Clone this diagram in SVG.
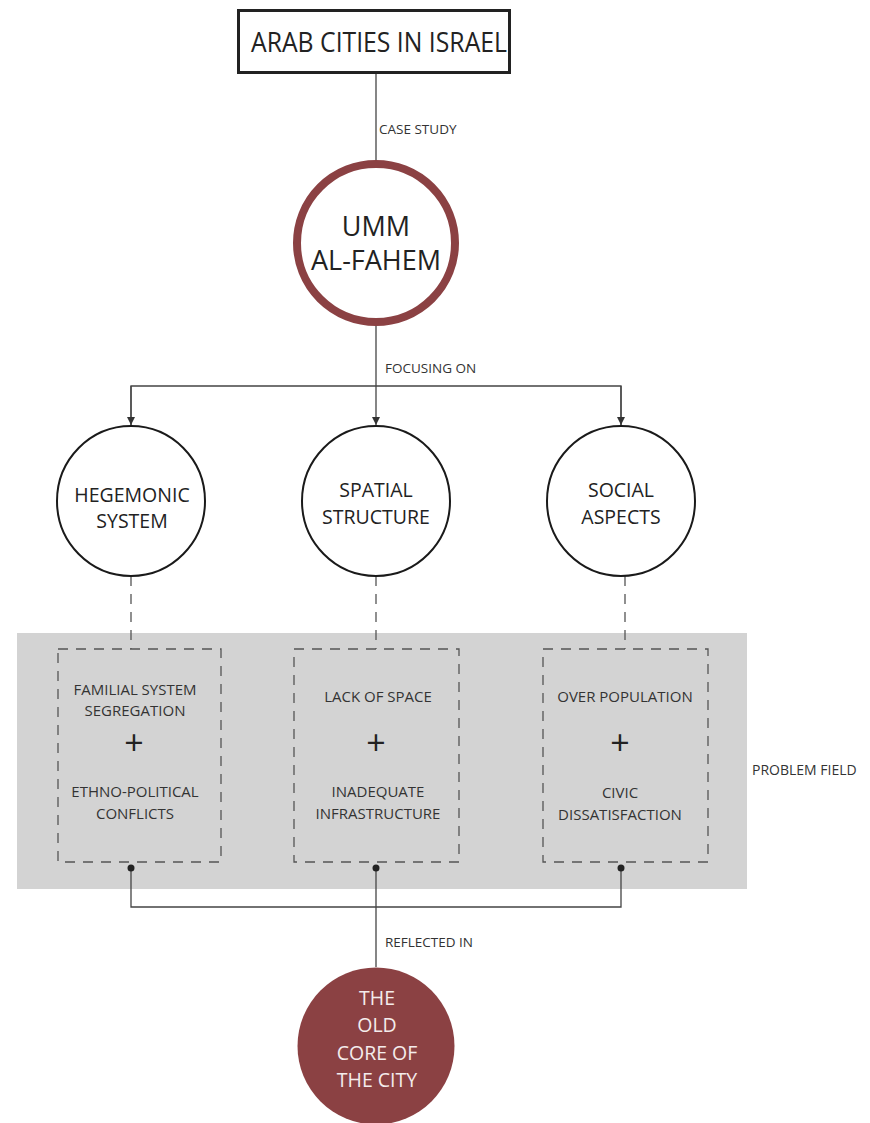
<svg xmlns="http://www.w3.org/2000/svg" width="870" height="1123" viewBox="0 0 870 1123">
<defs>
<marker id="arr" viewBox="0 0 10 10" refX="10" refY="5" markerWidth="8" markerHeight="8" markerUnits="userSpaceOnUse" orient="auto">
<path d="M0,0 L10,5 L0,10 z" fill="#333"/>
</marker>
<style>
text{font-family:"Open Sans","Liberation Sans",sans-serif;fill:#222;text-anchor:middle}
.lbl{font-size:13.5px;text-anchor:start;fill:#333}
.big{font-size:27px}
.mid{font-size:19.5px}
.sm{font-size:15px;fill:#333}
.plus{font-size:34px;font-weight:400}
.ln{stroke:#444;stroke-width:1.3;fill:none}
.dash{stroke:#555;stroke-width:1.3;fill:none;stroke-dasharray:10 8}
.circ{fill:#fff;stroke:#1a1a1a;stroke-width:2}
.w{fill:#f4ecec}
</style>
</defs>
<rect width="870" height="1123" fill="#fff"/>
<rect id="problem-field" x="17" y="633" width="730" height="256" fill="#d3d3d3"/>
<g id="connectors">
<line class="ln" x1="376" y1="73" x2="376" y2="161"/>
<line class="ln" x1="376" y1="326" x2="376" y2="386"/>
<polyline class="ln" points="131,425 131,386 621,386 621,425"/>
<line class="ln" x1="131" y1="386" x2="131" y2="425" marker-end="url(#arr)"/>
<line class="ln" x1="376" y1="386" x2="376" y2="425" marker-end="url(#arr)"/>
<line class="ln" x1="621" y1="386" x2="621" y2="425" marker-end="url(#arr)"/>
<line class="dash" x1="131" y1="576" x2="131" y2="649"/>
<line class="dash" x1="376" y1="576" x2="376" y2="649"/>
<line class="dash" x1="625" y1="576" x2="625" y2="649"/>
<polyline class="ln" points="131,868 131,907 621,907 621,868"/>
<line class="ln" x1="376" y1="868" x2="376" y2="967"/>
<circle cx="131" cy="868" r="3.5" fill="#222"/>
<circle cx="376" cy="868" r="3.5" fill="#222"/>
<circle cx="621" cy="868" r="3.5" fill="#222"/>
<text class="lbl" x="379" y="134">CASE STUDY</text>
<text class="lbl" x="385" y="373">FOCUSING ON</text>
<text class="lbl" x="385" y="947">REFLECTED IN</text>
</g>
<g id="title">
<rect x="238.5" y="10.5" width="271" height="62" fill="#fff" stroke="#222" stroke-width="3"/>
<text class="big" x="379" y="52" textLength="256" lengthAdjust="spacingAndGlyphs">ARAB CITIES IN ISRAEL</text>
</g>
<g id="umm">
<circle cx="376" cy="243" r="79" fill="#fff" stroke="#8b4143" stroke-width="8"/>
<text class="big" x="376" y="236">UMM</text>
<text class="big" x="376" y="270">AL-FAHEM</text>
</g>
<g id="hegemonic">
<ellipse class="circ" cx="131" cy="501" rx="74" ry="75"/>
<text class="mid" x="132" y="502">HEGEMONIC</text>
<text class="mid" x="132" y="528">SYSTEM</text>
</g>
<g id="spatial">
<ellipse class="circ" cx="376" cy="501" rx="74" ry="75"/>
<text class="mid" x="376" y="497">SPATIAL</text>
<text class="mid" x="376" y="524">STRUCTURE</text>
</g>
<g id="social">
<ellipse class="circ" cx="621" cy="501" rx="74" ry="75"/>
<text class="mid" x="621" y="497">SOCIAL</text>
<text class="mid" x="621" y="524">ASPECTS</text>
</g>
<g id="box-hegemonic">
<rect class="dash" x="58" y="649" width="163" height="213"/>
<text class="sm" x="135" y="695">FAMILIAL SYSTEM</text>
<text class="sm" x="135" y="716">SEGREGATION</text>
<text class="plus" x="134" y="755">+</text>
<text class="sm" x="135" y="797">ETHNO-POLITICAL</text>
<text class="sm" x="135" y="819">CONFLICTS</text>
</g>
<g id="box-spatial">
<rect class="dash" x="294" y="649" width="165" height="213"/>
<text class="sm" x="378" y="702">LACK OF SPACE</text>
<text class="plus" x="376" y="755">+</text>
<text class="sm" x="378" y="797">INADEQUATE</text>
<text class="sm" x="378" y="819">INFRASTRUCTURE</text>
</g>
<g id="box-social">
<rect class="dash" x="543" y="649" width="165" height="213"/>
<text class="sm" x="625" y="702">OVER POPULATION</text>
<text class="plus" x="620" y="755">+</text>
<text class="sm" x="620" y="798">CIVIC</text>
<text class="sm" x="620" y="820">DISSATISFACTION</text>
</g>
<text class="lbl" x="752" y="775" style="font-size:14px">PROBLEM FIELD</text>
<g id="old-core">
<circle cx="376" cy="1046" r="78.5" fill="#8b4143"/>
<text class="mid w" x="377" y="1005">THE</text>
<text class="mid w" x="377" y="1032">OLD</text>
<text class="mid w" x="377" y="1060">CORE OF</text>
<text class="mid w" x="377" y="1087">THE CITY</text>
</g>
</svg>
